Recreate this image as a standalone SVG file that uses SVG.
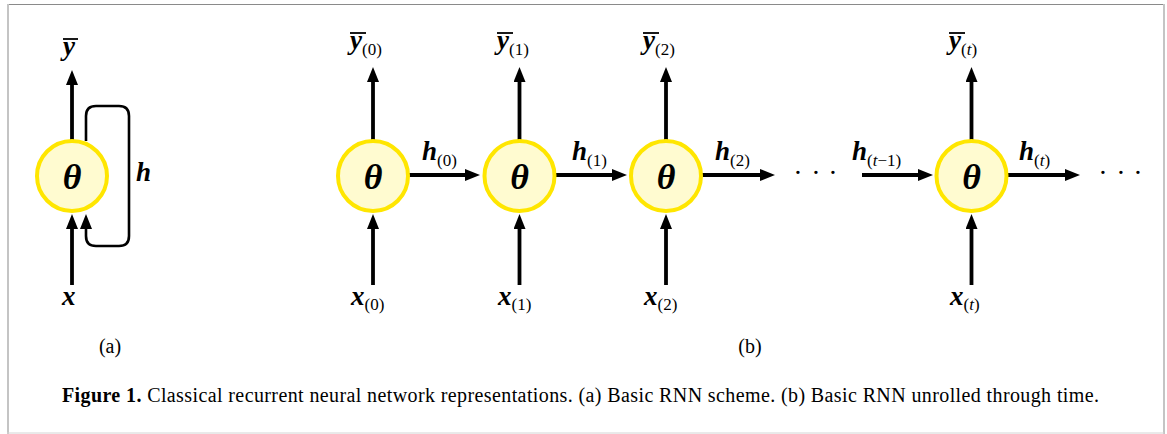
<svg xmlns="http://www.w3.org/2000/svg" width="1167" height="434" viewBox="0 0 1167 434">
<style>
.node{fill:#fffbd0;stroke:#ffe600;stroke-width:4}
.th{font-family:"Liberation Serif","DejaVu Serif",serif;font-weight:bold;font-style:italic;font-size:36px;fill:#000;text-anchor:middle}
.m{font-family:"Liberation Serif","DejaVu Serif",serif;font-weight:bold;font-style:italic;font-size:27px;fill:#000}
.s{font-weight:normal;font-style:normal;font-size:17px}
.it{font-style:italic}
.lbl{font-family:"Liberation Serif","DejaVu Serif",serif;font-size:20px;fill:#000;text-anchor:middle}
.cap{font-family:"Liberation Serif","DejaVu Serif",serif;font-size:20px;fill:#000}
.arr{stroke:#000;stroke-width:3.8;fill:none;marker-end:url(#ah)}
.loop{stroke:#000;stroke-width:2.6;fill:none;marker-end:url(#ah)}
.bar{stroke:#000;stroke-width:1.8}
.dots{font-family:"Liberation Serif","DejaVu Serif",serif;font-size:28px;fill:#000;text-anchor:middle}
</style>
<defs>
<marker id="ah" markerUnits="userSpaceOnUse" markerWidth="16" markerHeight="13" refX="3" refY="6" orient="auto">
<path d="M0,0 L15,6 L0,12 z" fill="#000"/>
</marker>
</defs>
<rect x="0" y="0" width="1167" height="434" fill="#fff"/>
<g id="frame">
<line x1="7" y1="4.5" x2="1164" y2="4.5" stroke="#8a8a8a" stroke-width="1"/>
<line x1="8" y1="4" x2="8" y2="434" stroke="#c4c4c4" stroke-width="2"/>
<line x1="1164" y1="4" x2="1164" y2="434" stroke="#c4c4c4" stroke-width="2"/>
<line x1="7" y1="433" x2="1164" y2="433" stroke="#d4d4d4" stroke-width="1"/>
</g>
<g id="connectors">
<line class="arr" x1="72" y1="140" x2="72" y2="82"/>
<line class="arr" x1="72" y1="285" x2="72" y2="226"/>
<path class="loop" d="M86,141 V116 Q86,106 96,106 H119 Q129,106 129,116 V236 Q129,246 119,246 H96 Q86,246 86,236 V226"/>
<line class="arr" x1="373" y1="140" x2="373" y2="79"/>
<line class="arr" x1="373" y1="285" x2="373" y2="226"/>
<line class="arr" x1="519.5" y1="140" x2="519.5" y2="79"/>
<line class="arr" x1="519.5" y1="285" x2="519.5" y2="226"/>
<line class="arr" x1="666" y1="140" x2="666" y2="79"/>
<line class="arr" x1="666" y1="285" x2="666" y2="226"/>
<line class="arr" x1="971.5" y1="140" x2="971.5" y2="79"/>
<line class="arr" x1="971.5" y1="285" x2="971.5" y2="226"/>
<line class="arr" x1="409" y1="175" x2="468" y2="175"/>
<line class="arr" x1="556" y1="175" x2="615" y2="175"/>
<line class="arr" x1="702" y1="175" x2="763" y2="175"/>
<line class="arr" x1="862" y1="175" x2="921" y2="175"/>
<line class="arr" x1="1008" y1="175" x2="1068" y2="175"/>
</g>
<g id="node-a"><circle class="node" cx="72" cy="176" r="35"/><text class="th" x="72" y="189">θ</text></g>
<g id="node-0"><circle class="node" cx="373" cy="176" r="35"/><text class="th" x="373" y="189">θ</text></g>
<g id="node-1"><circle class="node" cx="519.5" cy="176" r="35"/><text class="th" x="519.5" y="189">θ</text></g>
<g id="node-2"><circle class="node" cx="666" cy="176" r="35"/><text class="th" x="666" y="189">θ</text></g>
<g id="node-t"><circle class="node" cx="971.5" cy="176" r="35"/><text class="th" x="971.5" y="189">θ</text></g>
<g id="labels">
<line class="bar" x1="63" y1="39" x2="78" y2="39"/><text class="m" x="63" y="55">y</text>
<text class="m" x="62" y="305">x</text>
<text class="m" x="136" y="181">h</text>
<line class="bar" x1="350" y1="33" x2="366" y2="33"/><text class="m" x="350" y="49">y<tspan class="s" y="55">(0)</tspan></text>
<line class="bar" x1="497" y1="33" x2="513" y2="33"/><text class="m" x="497" y="49">y<tspan class="s" y="55">(1)</tspan></text>
<line class="bar" x1="643" y1="33" x2="659" y2="33"/><text class="m" x="643" y="49">y<tspan class="s" y="55">(2)</tspan></text>
<line class="bar" x1="949" y1="33" x2="965" y2="33"/><text class="m" x="949" y="49">y<tspan class="s" y="55">(<tspan class="it">t</tspan>)</tspan></text>
<text class="m" x="351" y="305">x<tspan class="s" y="310">(0)</tspan></text>
<text class="m" x="498" y="305">x<tspan class="s" y="310">(1)</tspan></text>
<text class="m" x="644" y="305">x<tspan class="s" y="310">(2)</tspan></text>
<text class="m" x="950" y="305">x<tspan class="s" y="310">(<tspan class="it">t</tspan>)</tspan></text>
<text class="m" x="422" y="160">h<tspan class="s" y="166">(0)</tspan></text>
<text class="m" x="572" y="160">h<tspan class="s" y="166">(1)</tspan></text>
<text class="m" x="715" y="160">h<tspan class="s" y="166">(2)</tspan></text>
<text class="m" x="852" y="160">h<tspan class="s" y="166">(<tspan class="it">t</tspan>−1)</tspan></text>
<text class="m" x="1019" y="160">h<tspan class="s" y="166">(<tspan class="it">t</tspan>)</tspan></text>
<text class="dots" x="798 816 833" y="182">···</text>
<text class="dots" x="1103 1121 1138" y="182">···</text>
<text class="lbl" x="110" y="353">(a)</text>
<text class="lbl" x="750" y="353">(b)</text>
<text class="cap" x="62" y="402" textLength="1037" lengthAdjust="spacing"><tspan font-weight="bold">Figure 1.</tspan> Classical recurrent neural network representations. (a) Basic RNN scheme. (b) Basic RNN unrolled through time.</text>
</g>
</svg>
